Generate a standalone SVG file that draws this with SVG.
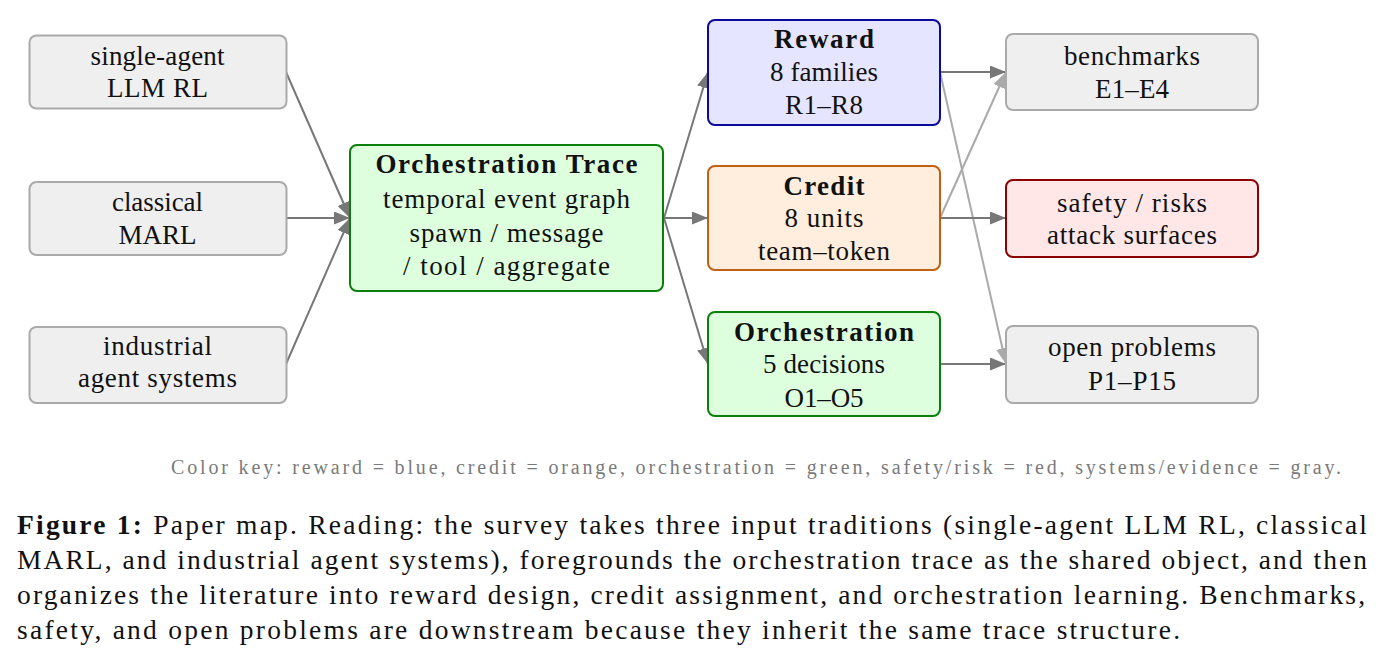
<svg xmlns="http://www.w3.org/2000/svg" width="1384" height="669" viewBox="0 0 1384 669">
  <defs>
    <style>
      text { font-family: "Liberation Serif", "Times New Roman", serif; fill: #111; }
      .nt { font-size: 27px; text-anchor: middle; }
      .bd { font-weight: bold; }
      .box { stroke-width: 2; }
      .gray { fill: #efefef; stroke: #aaaaaa; }
      .blue { fill: #e5e5ff; stroke: #0a0a9c; }
      .orange { fill: #ffeddd; stroke: #c06010; }
      .green { fill: #ddffdd; stroke: #0a800a; }
      .red { fill: #ffe7e7; stroke: #8b0000; }
      .edge { stroke-width: 2; fill: none; }
      .dark { stroke: #777777; marker-end: url(#ah); }
      .light { stroke: #aaaaaa; marker-end: url(#ahl); }
      .key { font-size: 20px; fill: #7a7a7a; }
      .cap { font-size: 27.5px; }
    </style>
    <marker id="ah" markerUnits="userSpaceOnUse" markerWidth="18" markerHeight="14" refX="16" refY="6.5" orient="auto">
      <path d="M0,0 L16,6.5 L0,13 z" fill="#777777"/>
    </marker>
    <marker id="ahl" markerUnits="userSpaceOnUse" markerWidth="18" markerHeight="14" refX="16" refY="6.5" orient="auto">
      <path d="M0,0 L16,6.5 L0,13 z" fill="#aaaaaa"/>
    </marker>
  </defs>

  <!-- connectors -->
  <g id="connectors">
    <line class="edge dark" x1="286" y1="72" x2="350" y2="218"/>
    <line class="edge dark" x1="286" y1="218" x2="350" y2="218"/>
    <line class="edge dark" x1="286" y1="364" x2="350" y2="218"/>
    <line class="edge dark" x1="664" y1="218" x2="708" y2="72"/>
    <line class="edge dark" x1="664" y1="218" x2="708" y2="218"/>
    <line class="edge dark" x1="664" y1="218" x2="708" y2="364"/>
    <line class="edge light" x1="940" y1="72" x2="1006" y2="364"/>
    <line class="edge light" x1="940" y1="218" x2="1006" y2="72"/>
    <line class="edge dark" x1="940" y1="72" x2="1006" y2="72"/>
    <line class="edge dark" x1="940" y1="218" x2="1006" y2="218"/>
    <line class="edge dark" x1="940" y1="364" x2="1006" y2="364"/>
  </g>

  <!-- input traditions -->
  <g id="single-agent">
    <rect class="box gray" x="29.5" y="35.5" width="257" height="73" rx="7"/>
    <text class="nt" x="157.5" y="65" textLength="134">single-agent</text>
    <text class="nt" x="157.5" y="97" textLength="101">LLM RL</text>
  </g>
  <g id="classical-marl">
    <rect class="box gray" x="29.5" y="182" width="257" height="73" rx="7"/>
    <text class="nt" x="157.5" y="211" textLength="91">classical</text>
    <text class="nt" x="157.5" y="244" textLength="78">MARL</text>
  </g>
  <g id="industrial">
    <rect class="box gray" x="29.5" y="327" width="257" height="76" rx="7"/>
    <text class="nt" x="157.5" y="355" textLength="109">industrial</text>
    <text class="nt" x="157.5" y="387" textLength="159">agent systems</text>
  </g>

  <!-- shared object -->
  <g id="trace">
    <rect class="box green" x="350" y="145" width="313" height="146" rx="7"/>
    <text class="nt bd" x="506.5" y="173" textLength="262">Orchestration Trace</text>
    <text class="nt" x="506.5" y="208" textLength="247">temporal event graph</text>
    <text class="nt" x="506.5" y="242" textLength="194">spawn / message</text>
    <text class="nt" x="506.5" y="275" textLength="207">/ tool / aggregate</text>
  </g>

  <!-- literature axes -->
  <g id="reward">
    <rect class="box blue" x="708" y="20" width="232" height="105" rx="7"/>
    <text class="nt bd" x="824" y="48" textLength="100">Reward</text>
    <text class="nt" x="824" y="81" textLength="108">8 families</text>
    <text class="nt" x="824" y="114" textLength="78">R1–R8</text>
  </g>
  <g id="credit">
    <rect class="box orange" x="708" y="166" width="232" height="104" rx="7"/>
    <text class="nt bd" x="824" y="195" textLength="81">Credit</text>
    <text class="nt" x="824" y="227" textLength="79">8 units</text>
    <text class="nt" x="824" y="260" textLength="132">team–token</text>
  </g>
  <g id="orchestration">
    <rect class="box green" x="708" y="312" width="232" height="104" rx="7"/>
    <text class="nt bd" x="824" y="341" textLength="180">Orchestration</text>
    <text class="nt" x="824" y="373" textLength="122">5 decisions</text>
    <text class="nt" x="824" y="407" textLength="79">O1–O5</text>
  </g>

  <!-- downstream -->
  <g id="benchmarks">
    <rect class="box gray" x="1006" y="34" width="252" height="76" rx="7"/>
    <text class="nt" x="1132" y="65" textLength="136">benchmarks</text>
    <text class="nt" x="1132" y="98" textLength="74">E1–E4</text>
  </g>
  <g id="safety">
    <rect class="box red" x="1006" y="180" width="252" height="77" rx="7"/>
    <text class="nt" x="1132" y="212" textLength="150">safety / risks</text>
    <text class="nt" x="1132" y="244" textLength="170">attack surfaces</text>
  </g>
  <g id="open-problems">
    <rect class="box gray" x="1006" y="326" width="252" height="77" rx="7"/>
    <text class="nt" x="1132" y="356" textLength="168">open problems</text>
    <text class="nt" x="1132" y="390" textLength="88">P1–P15</text>
  </g>

  <!-- legend -->
  <text class="key" x="171" y="474" textLength="1170">Color key: reward = blue, credit = orange, orchestration = green, safety/risk = red, systems/evidence = gray.</text>

  <!-- caption -->
  <g id="caption">
    <text class="cap" x="17" y="534" textLength="1350"><tspan class="bd">Figure 1:</tspan> Paper map. Reading: the survey takes three input traditions (single-agent LLM RL, classical</text>
    <text class="cap" x="17" y="569" textLength="1350">MARL, and industrial agent systems), foregrounds the orchestration trace as the shared object, and then</text>
    <text class="cap" x="17" y="604" textLength="1348">organizes the literature into reward design, credit assignment, and orchestration learning. Benchmarks,</text>
    <text class="cap" x="17" y="639" textLength="1163">safety, and open problems are downstream because they inherit the same trace structure.</text>
  </g>
</svg>
